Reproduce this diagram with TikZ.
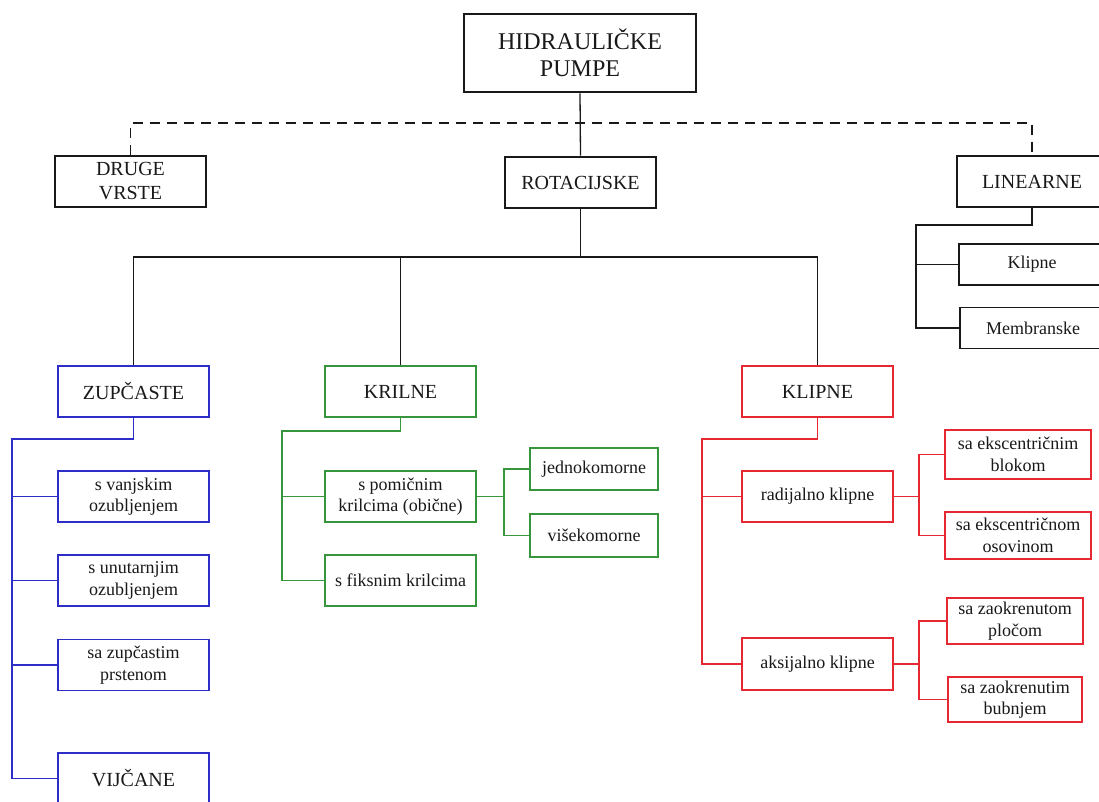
\documentclass[tikz,border=0pt]{standalone}
\usepackage{fontspec}
\setmainfont{Liberation Serif}
\definecolor{myblue}{RGB}{45,45,200}
\definecolor{mygreen}{RGB}{55,150,60}
\definecolor{myred}{RGB}{230,40,50}
\definecolor{ink}{RGB}{25,25,25}
\tikzset{
  bx/.style={draw, fill=white, align=center, inner sep=0pt, text=ink},
  mainbx/.style={bx, draw=ink, line width=2.6pt, minimum width=151pt, minimum height=51pt,
    font=\fontsize{20}{24}\selectfont},
  thinbx/.style={bx, draw=ink, line width=1.3pt, minimum width=146pt, minimum height=41pt,
    font=\fontsize{18}{21.6}\selectfont},
  capbx/.style={bx, line width=1.8pt, minimum width=151pt, minimum height=51pt,
    font=\fontsize{20}{24}\selectfont},
  subbx/.style={bx, line width=1.8pt, minimum width=151pt, minimum height=51pt,
    font=\fontsize{18}{21.6}\selectfont},
  blk/.style={draw=ink, line width=1.3pt},
  dsh/.style={draw=ink, line width=1.8pt, dash pattern=on 10pt off 7pt},
  bl/.style={draw=myblue, line width=1.8pt},
  gr/.style={draw=mygreen, line width=1.8pt},
  rd/.style={draw=myred, line width=1.8pt},
}
\begin{document}
\begin{tikzpicture}[x=1pt, y=-1pt]
\useasboundingbox (0,0) rectangle (1099,802);
\clip (0,0) rectangle (1099,802);
\fill[white] (0,0) rectangle (1099,802);

% top level
\node[mainbx, minimum width=232pt, minimum height=78pt, font=\fontsize{24}{27.5}\selectfont]
  (top) at (580,53) {HIDRAULIČKE\\PUMPE};
\node[mainbx] (druge) at (130.5,181.5) {DRUGE\\VRSTE};
\node[mainbx] (rot) at (580.5,182.5) {ROTACIJSKE};
\node[mainbx, minimum width=150pt] (lin) at (1032,181.5) {LINEARNE};

% linear children
\node[thinbx] (klipL) at (1032,264.5) {Klipne};
\node[thinbx] (membr) at (1033,328) {Membranske};

% rotational children
\node[capbx, draw=myblue] (zup) at (133.5,391.5) {ZUPČASTE};
\node[capbx, draw=mygreen] (kril) at (400.5,391.5) {KRILNE};
\node[capbx, draw=myred] (klip) at (817.5,391.5) {KLIPNE};

% gear pumps
\node[subbx, draw=myblue] (z1) at (133.5,496.5) {s vanjskim\\ozubljenjem};
\node[subbx, draw=myblue] (z2) at (133.5,580.5) {s unutarnjim\\ozubljenjem};
\node[subbx, draw=myblue] (z3) at (133.5,665) {sa zupčastim\\prstenom};
\node[capbx, draw=myblue] (z4) at (133.5,778.5) {VIJČANE};

% vane pumps
\node[subbx, draw=mygreen] (k1) at (400.5,496.5) {s pomičnim\\krilcima (obične)};
\node[subbx, draw=mygreen] (k2) at (400.5,580.5) {s fiksnim krilcima};
\node[subbx, draw=mygreen, minimum width=128pt, minimum height=42pt] (k11) at (594,469) {jednokomorne};
\node[subbx, draw=mygreen, minimum width=128pt, minimum height=43pt] (k12) at (594,535.5) {višekomorne};

% piston pumps
\node[subbx, draw=myred] (r1) at (817.5,496.5) {radijalno klipne};
\node[subbx, draw=myred, minimum height=52pt] (r2) at (817.5,664) {aksijalno klipne};
\node[subbx, draw=myred, minimum width=146pt, minimum height=49pt] (r11) at (1018,454.5) {sa ekscentričnim\\blokom};
\node[subbx, draw=myred, minimum width=146pt, minimum height=47pt] (r12) at (1018,535.5) {sa ekscentričnom\\osovinom};
\node[subbx, draw=myred, minimum width=136pt, minimum height=46pt] (r21) at (1015,621) {sa zaokrenutom\\pločom};
\node[subbx, draw=myred, minimum width=134pt, minimum height=45pt] (r22) at (1015,699.5) {sa zaokrenutim\\bubnjem};

% helper coordinates
\coordinate (dashy) at (0,123);
\coordinate (busR) at (0,257);
\coordinate (lx) at (916,225);
\coordinate (zx) at (12,439);
\coordinate (kx) at (282,431);
\coordinate (kpx) at (504,0);
\coordinate (rx) at (702,439);
\coordinate (r1x) at (919,0);

% black connectors
\draw[blk] (top.south) -- (rot.north);
\draw[dsh] (druge.north) -- (druge.north |- dashy) -- (lin.north |- dashy) -- (lin.north);
\draw[blk] (rot.south) -- (rot.south |- busR);
\draw[blk] (zup.north) -- (zup.north |- busR) -- (klip.north |- busR) -- (klip.north);
\draw[blk] (kril.north) -- (kril.north |- busR);
\draw[blk] (lin.south) -- (lin.south |- lx) -- (lx) -- (lx |- membr) -- (membr.west);
\draw[blk] (klipL.west) -- (lx |- klipL);

% blue connectors
\draw[bl] (zup.south) -- (zup.south |- zx) -- (zx) -- (zx |- z4) -- (z4.west);
\draw[bl] (z1.west) -- (zx |- z1);
\draw[bl] (z2.west) -- (zx |- z2);
\draw[bl] (z3.west) -- (zx |- z3);

% green connectors
\draw[gr] (kril.south) -- (kril.south |- kx) -- (kx) -- (kx |- k2) -- (k2.west);
\draw[gr] (k1.west) -- (kx |- k1);
\draw[gr] (k1.east) -- (kpx |- k1);
\draw[gr] (k11.west) -- (kpx |- k11) -- (kpx |- k12) -- (k12.west);

% red connectors
\draw[rd] (klip.south) -- (klip.south |- rx) -- (rx) -- (rx |- r2) -- (r2.west);
\draw[rd] (r1.west) -- (rx |- r1);
\draw[rd] (r1.east) -- (r1x |- r1);
\draw[rd] (r11.west) -- (r1x |- r11) -- (r1x |- r12) -- (r12.west);
\draw[rd] (r2.east) -- (r1x |- r2);
\draw[rd] (r21.west) -- (r1x |- r21) -- (r1x |- r22) -- (r22.west);
\end{tikzpicture}
\end{document}
